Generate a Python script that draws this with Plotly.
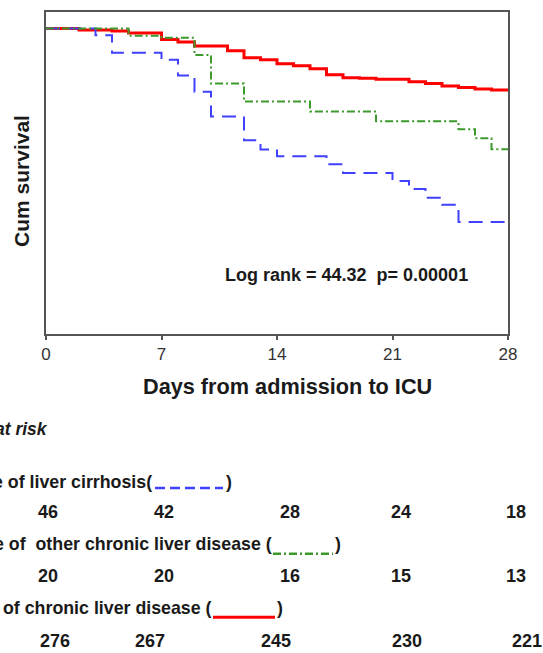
import plotly.graph_objects as go

# ---------------- data ----------------
red_days = [0, 2, 4, 5, 7, 8, 9, 11, 12, 13, 14, 15, 16, 17, 18, 19, 20, 22, 23, 24, 25, 26, 27, 28]
red_surv = [1.0, 0.995, 0.992, 0.985, 0.964, 0.956, 0.943, 0.927, 0.904, 0.898, 0.885, 0.878, 0.868,
            0.849, 0.839, 0.837, 0.834, 0.826, 0.820, 0.812, 0.807, 0.802, 0.799, 0.799]

blue_days = [0, 3, 4, 7, 8, 9, 10, 12, 13, 14, 17, 18, 21, 22, 23, 24, 25, 28]
blue_surv = [1.0, 0.978, 0.921, 0.898, 0.846, 0.793, 0.712, 0.634, 0.604, 0.582, 0.556, 0.527,
             0.501, 0.475, 0.446, 0.423, 0.367, 0.367]

green_days = [0, 5, 7, 9, 10, 12, 16, 20, 25, 26, 27, 28]
green_surv = [1.0, 0.976, 0.970, 0.913, 0.820, 0.761, 0.728, 0.696, 0.670, 0.641, 0.605, 0.605]

x_ticks = [0, 7, 14, 21, 28]
risk_days = [0, 7, 14, 21, 28]
risk_cirrhosis = [46, 42, 28, 24, 18]
risk_other = [20, 20, 16, 15, 13]
risk_none = [276, 267, 245, 230, 221]

label_title_x = "Days from admission to ICU"
label_title_y = "Cum survival"
label_logrank = "Log rank = 44.32\u00a0\u00a0p= 0.00001"
label_risk = "at risk"
label_cirr = "e of liver cirrhosis("
label_other = "e of \u00a0other chronic liver disease ("
label_none = "of chronic liver disease ("

# ---------------- layout helpers (pixel -> paper) ----------------
W, H = 543, 653
L, R, T, B = 46, 35, 10, 319
PW = W - L - R
PH = H - T - B
def px(x):
    return (x - L) / PW
def py(y):
    return (H - B - y) / PH

BLUE = "#4040FF"
GREEN = "#3C9A2C"
RED = "#FF0000"
FONT = "Liberation Sans, Arial, sans-serif"
TXT = "#1a1a1a"

fig = go.Figure()
fig.add_trace(go.Scatter(x=red_days, y=red_surv, mode="lines", line=dict(color=RED, width=3, shape="hv"),
                         showlegend=False, hoverinfo="skip"))
fig.add_trace(go.Scatter(x=blue_days, y=blue_surv, mode="lines",
                         line=dict(color=BLUE, width=2, shape="hv", dash="14px,8px"),
                         showlegend=False, hoverinfo="skip"))
fig.add_trace(go.Scatter(x=green_days, y=green_surv, mode="lines",
                         line=dict(color=GREEN, width=2, shape="hv", dash="8px,3px,2px,3px"),
                         showlegend=False, hoverinfo="skip"))

ann = []
def text(x, y, s, size=17, xanchor="center", italic=False, angle=0):
    t = "<b>" + s + "</b>"
    if italic:
        t = "<i>" + t + "</i>"
    ann.append(dict(x=px(x), y=py(y), xref="paper", yref="paper", text=t, showarrow=False,
                    xanchor=xanchor, yanchor="middle", textangle=angle,
                    font=dict(family=FONT, size=size, color=TXT)))

text(287, 387, label_title_x, size=21.7)
text(22, 180, label_title_y, size=21, angle=-90)
text(346, 275, label_logrank, size=18)
text(50, 430, label_risk, size=17.5, xanchor="right", italic=True)
text(154, 483, label_cirr, size=17.8, xanchor="right")
text(224, 483, ")", size=17.8, xanchor="left")
text(274, 545, label_other, size=17.8, xanchor="right")
text(333, 545, ")", size=17.8, xanchor="left")
text(214, 610, label_none, size=17.8, xanchor="right")
text(275, 610, ")", size=17.8, xanchor="left")

# at-risk counts placed under their days
shift_12 = [1.5, 2, 13, 8, 8]
shift_3 = [8.5, -12, -1, 14, 19]
for rows, ypix, shifts in [(risk_cirrhosis, 513, shift_12), (risk_other, 578, shift_12), (risk_none, 643, shift_3)]:
    for d, v, s in zip(risk_days, rows, shifts):
        ann.append(dict(x=d, y=py(ypix), xref="x", yref="paper", xshift=s, text="<b>%d</b>" % v,
                        showarrow=False, xanchor="center", yanchor="middle",
                        font=dict(family=FONT, size=18, color=TXT)))

shapes = [
    dict(type="line", xref="paper", yref="paper", x0=px(155), x1=px(223), y0=py(489), y1=py(489),
         line=dict(color=BLUE, width=2.5, dash="10px,5px")),
    dict(type="line", xref="paper", yref="paper", x0=px(273), x1=px(333), y0=py(555), y1=py(555),
         line=dict(color=GREEN, width=2.5, dash="8px,3px,2px,3px")),
    dict(type="line", xref="paper", yref="paper", x0=px(213), x1=px(275), y0=py(619), y1=py(619),
         line=dict(color=RED, width=3)),
]

fig.update_layout(
    width=W, height=H,
    margin=dict(l=L, r=R, t=T, b=B, pad=0),
    paper_bgcolor="white", plot_bgcolor="white",
    annotations=ann, shapes=shapes,
    xaxis=dict(range=[0, 28], tickvals=x_ticks, ticktext=[str(v) for v in x_ticks],
               showline=True, mirror=True, linecolor="#555", linewidth=2,
               ticks="outside", ticklen=4, tickwidth=2, tickcolor="#555",
               showgrid=False, zeroline=False,
               tickfont=dict(family=FONT, size=17, color="#333")),
    yaxis=dict(range=[0, 1.054], showline=True, mirror=True, linecolor="#555", linewidth=2,
               showticklabels=False, ticks="", showgrid=False, zeroline=False),
)

fig.write_html("out.html", config={"displayModeBar": False},
               post_script="document.body.style.margin='0';document.body.style.overflow='hidden';")
